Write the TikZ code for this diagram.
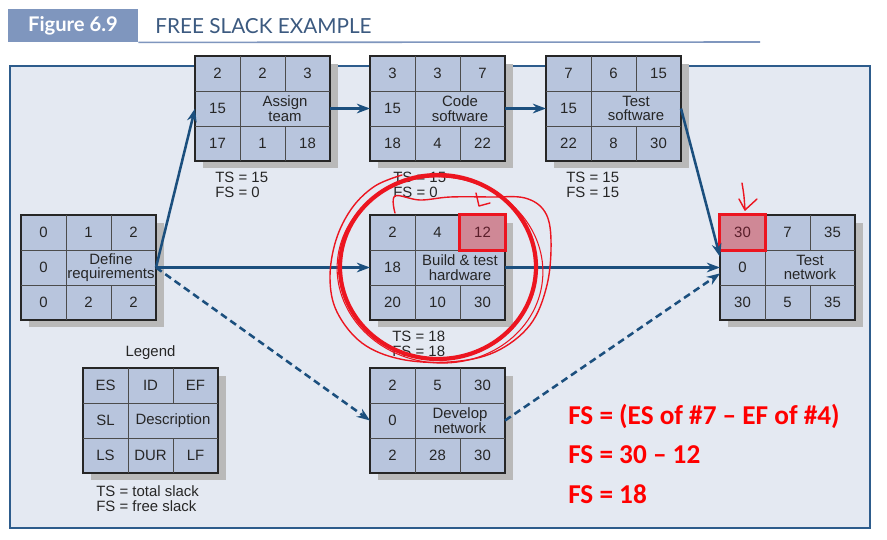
\documentclass[tikz,border=0pt]{standalone}
\usepackage{fontspec}
\setmainfont{Liberation Sans}
\newfontfamily\headfont{Lato}
\newfontfamily\notefont{Carlito}
\usepackage{tikz}
\usetikzlibrary{arrows.meta, positioning, calc, shadows}

\definecolor{framefill}{HTML}{E4E9F2}
\definecolor{framedraw}{HTML}{2D5C8C}
\definecolor{taskfill}{HTML}{B8C5DD}
\definecolor{shadowgray}{HTML}{B9B9B9}
\definecolor{flowblue}{HTML}{1B4F7E}
\definecolor{hotfill}{HTML}{CF8896}
\definecolor{hottext}{HTML}{5A1E2A}
\definecolor{penred}{HTML}{EC1520}
\definecolor{tagfill}{HTML}{7F96BE}
\definecolor{titleblue}{HTML}{3C5A80}

% one activity box: [red top cell]{name}{centre}{top row}{slack}{description}{bottom row}
\newcommand{\taskbox}[7][0]{%
  \node[task] (#2) at (#3) {};
  \draw[cellline] ($(#2.north west)+(0,35)$) -- ($(#2.north east)+(0,35)$);
  \draw[cellline] ($(#2.north west)+(0,70)$) -- ($(#2.north east)+(0,70)$);
  \draw[cellline] ($(#2.north west)+(45,0)$) -- ($(#2.south west)+(45,0)$);
  \draw[cellline] ($(#2.north west)+(90,0)$) -- ($(#2.north west)+(90,35)$);
  \draw[cellline] ($(#2.south west)+(90,0)$) -- ($(#2.south west)+(90,-35)$);
  \foreach \t [count=\i] in {#4} {
    \ifnum\i=#1 \tikzset{this cell/.style={hotcell}}\else\tikzset{this cell/.style={}}\fi
    \node[cell, this cell] (#2-t\i) at ($(#2.north west)+(45*\i-22.5,17.5)$) {\t};
  }
  \node[cell] (#2-sl) at ($(#2.north west)+(22.5,52.5)$) {#5};
  \node[desc] (#2-d) at ($(#2.north west)+(90,52.5)$) {#6};
  \foreach \t [count=\i] in {#7}
    \node[cell] (#2-b\i) at ($(#2.south west)+(45*\i-22.5,-17.5)$) {\t};
}

\begin{document}
\begin{tikzpicture}[
    x=0.02cm, y=-0.02cm,
    font=\fontsize{8.5}{9}\selectfont,
    task/.style={draw=black!85, line width=1.2pt, fill=taskfill, minimum width=2.7cm, minimum height=2.1cm,
      inner sep=0pt, outer sep=0pt,
      drop shadow={shadow xshift=0.16cm, shadow yshift=-0.15cm, fill=shadowgray, opacity=1}},
    cellline/.style={draw=black!70, line width=0.5pt},
    cell/.style={inner sep=0pt, text=black!85},
    hotcell/.style={draw=penred, line width=1.7pt, fill=hotfill, minimum width=0.92cm, minimum height=0.72cm, text=hottext},
    desc/.style={align=center, inner sep=0pt, text=black!85, font=\fontsize{8.5}{8.3}\selectfont},
    slack/.style={align=left, inner sep=0pt, anchor=west, text=black!85, font=\fontsize{8.5}{8.6}\selectfont},
    flow/.style={draw=flowblue, line width=1.45pt, -{Stealth[length=7.5pt, width=5.5pt]}},
    later/.style={flow, dash pattern=on 4pt off 2.5pt},
    pen/.style={draw=penred, line cap=round, line join=round},
    note/.style={anchor=base west, inner sep=0pt, text=red, font=\notefont\bfseries\fontsize{15.5}{18}\selectfont}
]
\fill[white] (0,0) rectangle (887,539);
\useasboundingbox (0,0) rectangle (887,539);

% Heading
\node[fill=tagfill, text=white, font=\headfont\bfseries\fontsize{11.5}{12}\selectfont,
  minimum width=2.6cm, minimum height=0.66cm, inner sep=0pt] (tag) at (73,25.5) {Figure 6.9};
\node[anchor=west, inner sep=0pt, text=titleblue, font=\headfont\fontsize{11.8}{12}\selectfont] (title) at (155,26) {FREE SLACK EXAMPLE};
\draw[tagfill, line width=0.9pt] (tag.south east) -- (760,42);

% Frame
\draw[draw=framedraw, fill=framefill, line width=1.1pt] (10,66) rectangle (870,528);

% Activities
\taskbox{def}{88.5,267.5}{0,1,2}{0}{Define\\requirements}{0,2,2}
\taskbox{as}{262.5,108.5}{2,2,3}{15}{Assign\\team}{17,1,18}
\taskbox{cs}{437.5,108.5}{3,3,7}{15}{Code\\software}{18,4,22}
\taskbox{tsw}{613.5,108.5}{7,6,15}{15}{Test\\software}{22,8,30}
\taskbox[3]{bth}{437.5,267.5}{2,4,12}{18}{Build \& test\\hardware}{20,10,30}
\taskbox[1]{tn}{787.5,267.5}{30,7,35}{0}{Test\\network}{30,5,35}
\taskbox{dev}{437.5,420.5}{2,5,30}{0}{Develop\\network}{2,28,30}

% Slack labels
\node[slack] (as-fs) at ($(as.south west)+(20,23.5)$) {TS = 15\\FS = 0};
\node[slack] (cs-fs) at ($(cs.south west)+(23,23.5)$) {TS = 15\\FS = 0};
\node[slack] (tsw-fs) at ($(tsw.south west)+(20,23.5)$) {TS = 15\\FS = 15};
\node[slack] (bth-fs) at ($(bth.south west)+(22,23.5)$) {TS = 18\\FS = 18};

% Legend
\taskbox{leg}{150.5,420.5}{ES,ID,EF}{SL}{Description}{LS,DUR,LF}
\node[inner sep=0pt, text=black!85] (leg-title) at ($(leg.north)+(0,-15)$) {Legend};
\node[slack] (leg-key) at ($(leg.south west)+(13,25.5)$) {TS = total slack\\FS = free slack};

% Arrows
\draw[flow] (def.east) -- (as.west);
\draw[flow] (def.east) -- (bth.west);
\draw[later] (def.east) -- (dev.west);
\draw[flow] (as.east) -- (cs.west);
\draw[flow] (cs.east) -- (tsw.west);
\draw[flow] (tsw.east) -- (tn.171);
\draw[flow] (bth.east) -- (tn.west);
\draw[later] (dev.east) -- (tn.185);

% Red notes
\draw[pen, line width=2.4pt] (438,267) ellipse [x radius=98, y radius=92];
\draw[pen, line width=0.6pt, rotate around={-6:(440,270)}] (440,270) ellipse [x radius=103, y radius=93];
\draw[pen, line width=0.8pt] plot[smooth, tension=0.6] coordinates {(395,213) (395,196) (420,200) (450,197)
  (490,197) (525,198) (545,212) (551,240) (547,285) (530,325) (495,352) (450,362) (400,359) (362,343)
  (337,312) (330,278) (336,240) (352,208) (375,186) (402,175)};
\draw[pen, line width=0.8pt] (476,193) -- (479,206) -- (490,203);
\draw[pen, line width=0.8pt] (742,183) .. controls (744,195) .. (745,210);
\draw[pen, line width=0.8pt] (739,199) -- (745,210) -- (757,199);

\node[note] (fs1) at (568,424) {FS = (ES of \#7 – EF of \#4)};
\node[note] (fs2) at (568,463) {FS = 30 – 12};
\node[note] (fs3) at (568,503) {FS = 18};
\end{tikzpicture}
\end{document}
